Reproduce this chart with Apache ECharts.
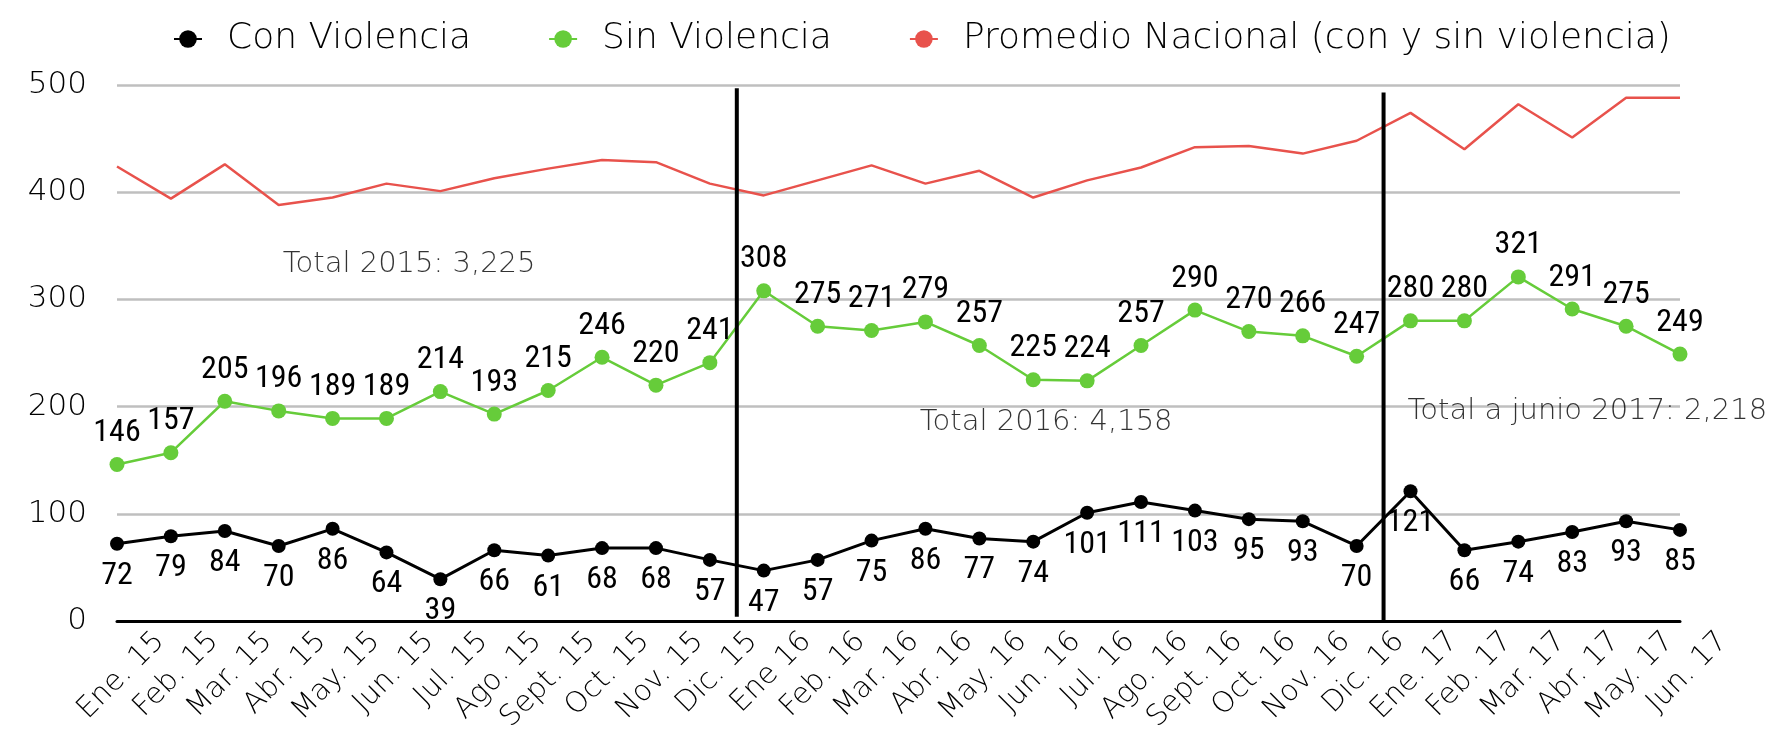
<!DOCTYPE html>
<html>
<head>
<meta charset="utf-8">
<script src="https://cdn.jsdelivr.net/npm/echarts@6/dist/echarts.min.js"></script>
<style>
  html, body { margin: 0; padding: 0; background: #fff; }
  #chart { width: 1773px; height: 735px; }
</style>
</head>
<body>
<div id="chart"></div>
<script>
// categorias (meses)
var meses = ['Ene. 15', 'Feb. 15', 'Mar. 15', 'Abr. 15', 'May. 15', 'Jun. 15', 'Jul. 15', 'Ago. 15',
  'Sept. 15', 'Oct. 15', 'Nov. 15', 'Dic. 15', 'Ene 16', 'Feb. 16', 'Mar. 16', 'Abr. 16', 'May. 16',
  'Jun. 16', 'Jul. 16', 'Ago. 16', 'Sept. 16', 'Oct. 16', 'Nov. 16', 'Dic. 16', 'Ene. 17', 'Feb. 17',
  'Mar. 17', 'Abr. 17', 'May. 17', 'Jun. 17'];

var conViolencia = [72, 79, 84, 70, 86, 64, 39, 66, 61, 68, 68, 57, 47, 57, 75, 86, 77, 74, 101, 111,
  103, 95, 93, 70, 121, 66, 74, 83, 93, 85];

var sinViolencia = [146, 157, 205, 196, 189, 189, 214, 193, 215, 246, 220, 241, 308, 275, 271, 279,
  257, 225, 224, 257, 290, 270, 266, 247, 280, 280, 321, 291, 275, 249];

// promedio nacional
var promedio = [424, 394, 426, 388, 395, 408, 401, 413, 422, 430, 428, 408, 397, 411, 425, 408, 420,
  395, 411, 423, 442, 443, 436, 448, 474, 440, 482, 451, 488, 488];

// separadores de año (entre Dic. y Ene.)
var separadores = [11.5, 23.5];
var totales = ['Total 2015: 3,225', 'Total 2016: 4,158', 'Total a junio 2017: 2,218'];

var yTicks = [0, 100, 200, 300, 400, 500];

var fuente = '"DejaVu Sans ExtraLight", "DejaVu Sans", sans-serif';
var fuenteNum = '"Liberation Sans Narrow", "Roboto Condensed", Roboto, sans-serif';

var myChart = echarts.init(document.getElementById('chart'));

var option = {
  backgroundColor: '#fff',
  animation: false,
  legend: {
    left: 168,
    top: 16,
    itemWidth: 28,
    itemHeight: 22,
    itemGap: 77,
    data: ['Con Violencia', 'Sin Violencia', 'Promedio Nacional (con y sin violencia)'],
    textStyle: {
      fontFamily: fuente,
      fontWeight: 200,
      fontSize: 36,
      color: '#000',
      padding: [0, 0, 0, 20]
    }
  },
  grid: [
    { left: 117, right: 93, top: 85, bottom: 114 },
    // solo para las etiquetas del eje x (desplazadas como en Excel)
    { left: 160, right: 50, top: 85, bottom: 114 }
  ],
  xAxis: [
    {
      type: 'category',
      gridIndex: 0,
      data: meses,
      boundaryGap: false,
      axisLine: { lineStyle: { color: '#000', width: 3 } },
      axisTick: { show: false },
      axisLabel: { show: false },
      splitLine: { show: false }
    },
    {
      // eje numerico oculto para separadores y totales
      type: 'value',
      gridIndex: 0,
      min: 0,
      max: meses.length - 1,
      show: false
    },
    {
      type: 'category',
      gridIndex: 1,
      data: meses,
      boundaryGap: false,
      axisLine: { show: false },
      axisTick: { show: false },
      axisLabel: {
        interval: 0,
        rotate: 45,
        margin: 33,
        fontFamily: fuente,
        fontWeight: 200,
        fontSize: 29,
        color: '#000'
      }
    }
  ],
  yAxis: [
    {
      type: 'value',
      gridIndex: 0,
      min: yTicks[0],
      max: yTicks[yTicks.length - 1],
      interval: 100,
      axisLine: { show: false },
      axisTick: { show: false },
      axisLabel: {
        margin: 30,
        fontFamily: fuente,
        fontWeight: 200,
        fontSize: 31,
        color: '#000'
      },
      splitLine: { lineStyle: { color: '#BFBFBF', width: 2.5 } }
    },
    { type: 'value', gridIndex: 1, min: 0, max: 500, show: false }
  ],
  series: [
    {
      name: 'Con Violencia',
      type: 'line',
      data: conViolencia,
      symbol: 'circle',
      symbolSize: 14,
      color: '#000',
      lineStyle: { width: 3, color: '#000' },
      z: 4,
      label: {
        show: true,
        position: 'bottom',
        distance: 9,
        fontFamily: fuenteNum,
        fontSize: 32,
        color: '#000'
      }
    },
    {
      name: 'Sin Violencia',
      type: 'line',
      data: sinViolencia,
      symbol: 'circle',
      symbolSize: 15,
      color: '#66CC3A',
      lineStyle: { width: 2.5, color: '#66CC3A' },
      z: 4,
      label: {
        show: true,
        position: 'top',
        distance: 8,
        fontFamily: fuenteNum,
        fontSize: 32,
        color: '#000'
      }
    },
    {
      name: 'Promedio Nacional (con y sin violencia)',
      type: 'line',
      data: promedio,
      symbol: 'none',
      color: '#E8524C',
      lineStyle: { width: 2.5, color: '#E8524C' },
      z: 3
    },
    {
      name: 'sep1',
      type: 'line',
      xAxisIndex: 1,
      data: [[separadores[0], 4], [separadores[0], 497]],
      symbol: 'none',
      lineStyle: { color: '#000', width: 4 },
      z: 6,
      silent: true
    },
    {
      name: 'sep2',
      type: 'line',
      xAxisIndex: 1,
      data: [[separadores[1], 0], [separadores[1], 493]],
      symbol: 'none',
      lineStyle: { color: '#000', width: 4 },
      z: 6,
      silent: true
    },
    {
      name: 'totales',
      type: 'scatter',
      xAxisIndex: 1,
      symbolSize: 0,
      silent: true,
      data: [
        { value: [5.42, 333], name: totales[0] },
        { value: [17.24, 185], name: totales[1] },
        { value: [27.28, 195], name: totales[2] }
      ],
      label: {
        show: true,
        position: 'inside',
        formatter: function (p) { return p.name; },
        fontFamily: fuente,
        fontWeight: 200,
        fontSize: 29,
        color: '#000'
      },
      z: 2
    }
  ]
};

myChart.setOption(option);
</script>
</body>
</html>
